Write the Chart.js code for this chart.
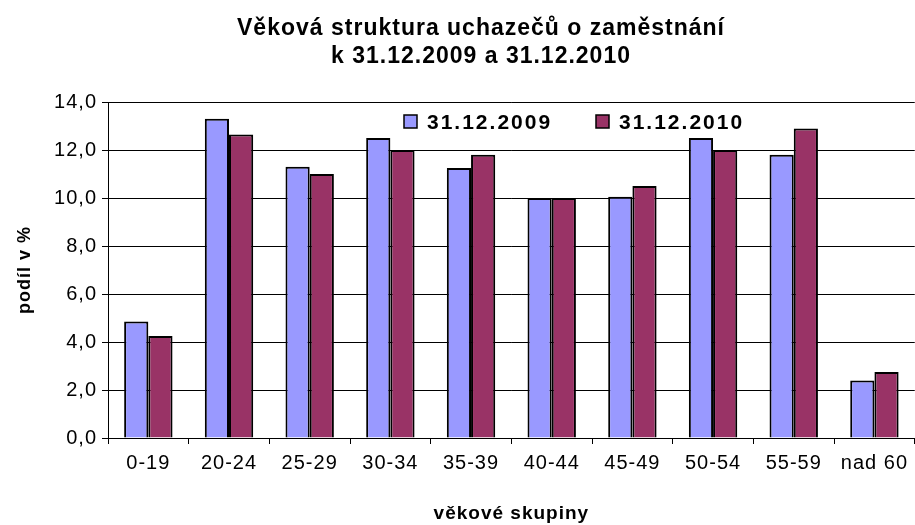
<!DOCTYPE html>
<html>
<head>
<meta charset="utf-8">
<script src="https://cdn.jsdelivr.net/npm/chart.js@4/dist/chart.umd.min.js"></script>
<style>
  html, body { margin: 0; padding: 0; background: #fff; }
  #wrap { width: 915px; height: 525px; }
</style>
</head>
<body>
<div id="wrap"><canvas id="chart" width="915" height="525"></canvas></div>
<script>
// data
const categories = ['0-19', '20-24', '25-29', '30-34', '35-39', '40-44', '45-49', '50-54', '55-59', 'nad 60'];
const values2009 = [4.85, 13.3, 11.3, 12.5, 11.25, 10.0, 10.05, 12.5, 11.8, 2.4];
const values2010 = [4.25, 12.65, 11.0, 12.0, 11.8, 10.0, 10.5, 12.0, 12.9, 2.75];
const seriesLabels = ['31.12.2009', '31.12.2010'];
const titleLines = ['Věková struktura uchazečů o zaměstnání', 'k 31.12.2009 a 31.12.2010'];

const FONT = "'Liberation Sans', Arial, sans-serif";

// the original text is set a bit wide, so space the letters out
const wideText = {
    id: 'wideText',
    beforeLayout(chart) { chart.ctx.letterSpacing = '1px'; },
    beforeDraw(chart) { chart.ctx.letterSpacing = '1px'; }
};

// title sits a little right of the canvas centre in the original
const offsetTitle = {
    id: 'offsetTitle',
    afterDraw(chart) {
        const ctx = chart.ctx;
        ctx.save();
        ctx.font = 'bold 23px ' + FONT;
        ctx.letterSpacing = '1px';
        ctx.fillStyle = '#000';
        ctx.textAlign = 'center';
        ctx.textBaseline = 'alphabetic';
        ctx.fillText(titleLines[0], 481, 35);
        ctx.fillText(titleLines[1], 481, 63);
        ctx.restore();
    }
};

// legend drawn inside the plot area, like the original
const insideLegend = {
    id: 'insideLegend',
    afterDatasetsDraw(chart) {
        const ctx = chart.ctx;
        const boxX = [404, 596];
        ctx.save();
        ctx.font = 'bold 21px ' + FONT;
        ctx.letterSpacing = '2px';
        ctx.textBaseline = 'middle';
        chart.data.datasets.forEach((ds, i) => {
            const x = boxX[i];
            const y = 122;
            ctx.fillStyle = ds.backgroundColor;
            ctx.fillRect(x, y - 7, 13, 13);
            ctx.strokeStyle = '#000';
            ctx.lineWidth = 1.5;
            ctx.strokeRect(x, y - 7, 13, 13);
            ctx.fillStyle = '#000';
            ctx.fillText(ds.label, x + 23, y + 1);
        });
        ctx.restore();
    }
};

new Chart(document.getElementById('chart').getContext('2d'), {
    type: 'bar',
    data: {
        labels: categories,
        datasets: [{
            label: seriesLabels[0],
            data: values2009,
            backgroundColor: '#9999FF',
            borderColor: '#000',
            borderWidth: 2,
            categoryPercentage: 0.6,
            barPercentage: 1.0
        }, {
            label: seriesLabels[1],
            data: values2010,
            backgroundColor: '#993366',
            borderColor: '#000',
            borderWidth: 2,
            categoryPercentage: 0.6,
            barPercentage: 1.0
        }]
    },
    options: {
        responsive: false,
        animation: false,
        layout: { padding: { left: 0, right: 0, top: 102, bottom: 0 } },
        plugins: {
            legend: { display: false },
            tooltip: { enabled: false },
            title: { display: false }
        },
        scales: {
            x: {
                grid: {
                    drawOnChartArea: false,
                    drawTicks: true,
                    tickLength: 6,
                    color: '#000',
                    offset: true
                },
                border: { color: '#000', width: 1 },
                ticks: {
                    color: '#000',
                    font: { family: FONT, size: 20 },
                    padding: 7,
                    maxRotation: 0
                },
                title: {
                    display: true,
                    text: 'věkové skupiny',
                    color: '#000',
                    font: { family: FONT, size: 19, weight: 'bold' },
                    padding: { top: 20, bottom: 0 }
                },
                afterFit(scale) { scale.height = 87; }
            },
            y: {
                min: 0,
                max: 14,
                grid: {
                    color: '#000',
                    lineWidth: 1,
                    tickLength: 6
                },
                border: { color: '#000', width: 1 },
                ticks: {
                    stepSize: 2,
                    color: '#000',
                    font: { family: FONT, size: 20 },
                    padding: 5,
                    callback: v => v.toFixed(1).replace('.', ',')
                },
                title: {
                    display: true,
                    text: 'podíl v %',
                    color: '#000',
                    font: { family: FONT, size: 18, weight: 'bold' },
                    padding: { top: 14, bottom: 10 }
                },
                afterFit(scale) { scale.width = 108; }
            }
        }
    },
    plugins: [wideText, offsetTitle, insideLegend]
});
</script>
</body>
</html>
